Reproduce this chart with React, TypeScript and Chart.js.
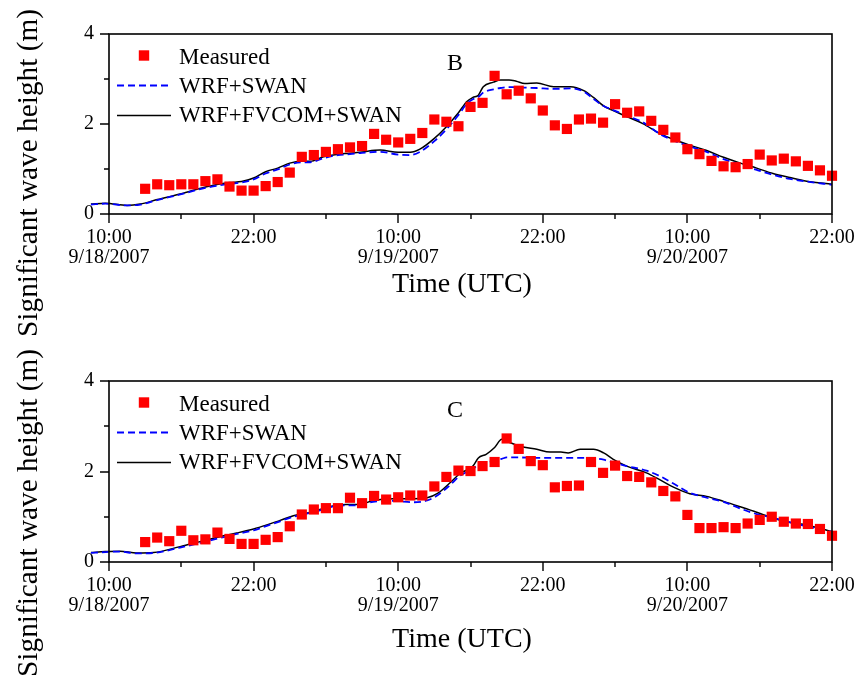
import React, { useEffect, useRef } from "react";
import { Chart, registerables } from "chart.js";

Chart.register(...registerables);

// ---------- data (hours since 10:00 UTC, 9/18/2007) ----------
const measuredHours = [
  3, 4, 5, 6, 7, 8, 9, 10, 11, 12, 13, 14, 15, 16, 17, 18, 19, 20, 21, 22,
  23, 24, 25, 26, 27, 28, 29, 30, 31, 32, 33, 34, 35, 36, 37, 38, 39, 40, 41,
  42, 43, 44, 45, 46, 47, 48, 49, 50, 51, 52, 53, 54, 55, 56, 57, 58, 59, 60,
];

const measuredB = [
  0.56, 0.66, 0.64, 0.66, 0.66, 0.73, 0.77, 0.61, 0.52, 0.52, 0.62, 0.71,
  0.92, 1.27, 1.31, 1.38, 1.44, 1.48, 1.51, 1.78, 1.65, 1.59, 1.67, 1.8, 2.1,
  2.05, 1.95, 2.38, 2.47, 3.07, 2.66, 2.74, 2.57, 2.3, 1.97, 1.89, 2.1, 2.12,
  2.03, 2.44, 2.25, 2.28, 2.07, 1.87, 1.7, 1.44, 1.33, 1.18, 1.06, 1.04, 1.11,
  1.32, 1.19, 1.23, 1.17, 1.07, 0.97, 0.85,
];

const measuredC = [
  0.44, 0.54, 0.46, 0.69, 0.48, 0.5, 0.65, 0.51, 0.4, 0.4, 0.49, 0.55, 0.79,
  1.05, 1.16, 1.19, 1.19, 1.42, 1.3, 1.46, 1.38, 1.43, 1.47, 1.47, 1.67, 1.88,
  2.02, 2.01, 2.12, 2.21, 2.73, 2.5, 2.23, 2.14, 1.65, 1.68, 1.69, 2.21, 1.97,
  2.13, 1.9, 1.88, 1.76, 1.57, 1.45, 1.04, 0.75, 0.75, 0.77, 0.75, 0.85, 0.93,
  1.0, 0.89, 0.85, 0.84, 0.73, 0.58,
];

const modelHoursB = [
  -1.5, -0.3, 1.5, 2.6, 4, 6, 8, 10, 11, 12, 13, 14, 15, 16, 16.7, 17.8, 19,
  20, 21, 22.5, 24, 25, 25.8, 27, 28, 29, 29.7, 30.2, 30.65, 31.06, 31.9, 32.5,
  33.2, 33.8, 34.5, 35.5, 36.9, 38.3, 39.4, 40.2, 41.05, 41.85, 43, 44.3, 45.7,
  46.8, 48.2, 49.6, 51, 52.4, 53.75, 55.1, 56.5, 57.9, 60,
];
const swanB = [
  0.21, 0.23, 0.19, 0.21, 0.31, 0.44, 0.58, 0.67, 0.7, 0.77, 0.9, 0.99, 1.1,
  1.15, 1.15, 1.24, 1.31, 1.33, 1.36, 1.38, 1.32, 1.31, 1.38, 1.62, 1.88, 2.2,
  2.45, 2.55, 2.6, 2.7, 2.77, 2.8, 2.82, 2.82, 2.81, 2.8, 2.78, 2.79, 2.72,
  2.56, 2.4, 2.31, 2.18, 2.04, 1.78, 1.64, 1.5, 1.38, 1.22, 1.1, 0.98, 0.87,
  0.78, 0.72, 0.65,
];
const fvcomB = [
  0.22, 0.24, 0.19, 0.22, 0.32, 0.45, 0.6, 0.7, 0.72, 0.8, 0.94, 1.02, 1.13,
  1.17, 1.17, 1.27, 1.33, 1.35, 1.38, 1.42, 1.37, 1.37, 1.44, 1.68, 1.94, 2.25,
  2.5, 2.59, 2.64, 2.83, 2.93, 2.98, 2.98, 2.95, 2.9, 2.91, 2.83, 2.83, 2.74,
  2.59, 2.4, 2.3, 2.16, 2.01, 1.79, 1.66, 1.53, 1.41, 1.26, 1.13, 1.02, 0.9,
  0.81, 0.73, 0.66,
];

const modelHoursC = [
  -1.5, -0.3, 0.9, 2.3, 3.7, 5.9, 7.55, 9.2, 10.6, 12, 13.1, 14.2, 15.3, 16.4,
  17.5, 18.6, 19.7, 20.8, 21.9, 23.6, 25.3, 26.4, 27.3, 28.3, 29.1, 30.2,
  30.65, 31.3, 32.0, 32.6, 33, 34.1, 35.5, 36.6, 37.5, 38.1, 39.1, 40.2, 41.05,
  41.85, 42.96, 44.6, 45.7, 46.8, 48.2, 49.6, 51, 52.4, 53.75, 55.1, 56.5,
  57.9, 60,
];
const swanC = [
  0.2, 0.22, 0.23, 0.19, 0.2, 0.32, 0.42, 0.53, 0.62, 0.7, 0.8, 0.9, 1.0, 1.07,
  1.14, 1.23, 1.25, 1.25, 1.33, 1.35, 1.32, 1.36, 1.48, 1.7, 1.9, 2.06, 2.15,
  2.2, 2.24, 2.28, 2.31, 2.31, 2.3, 2.3, 2.3, 2.3, 2.3, 2.29, 2.26, 2.2, 2.12,
  2.02, 1.9, 1.74, 1.53, 1.42, 1.33, 1.18, 1.06, 0.98, 0.88, 0.79, 0.67,
];
const fvcomC = [
  0.21, 0.23, 0.24, 0.2, 0.21, 0.34, 0.45, 0.56, 0.64, 0.73, 0.82, 0.92, 1.02,
  1.08, 1.16, 1.24, 1.27, 1.27, 1.36, 1.4, 1.4, 1.42, 1.52, 1.75, 1.95, 2.12,
  2.3, 2.38, 2.53, 2.71, 2.67, 2.56, 2.49, 2.43, 2.43, 2.41, 2.49, 2.49, 2.41,
  2.27, 2.12, 1.97, 1.82, 1.66, 1.51, 1.45, 1.34, 1.22, 1.1, 0.97, 0.87, 0.82,
  0.67,
];

const tickHours = [0, 12, 24, 36, 48, 60];
const tickTimes = ["10:00", "22:00", "10:00", "22:00", "10:00", "22:00"];
const tickDates = ["9/18/2007", "", "9/19/2007", "", "9/20/2007", ""];
const minorTickHours = [6, 18, 30, 42, 54];
const yTicks = [0, 2, 4];
const yMinorTicks = [1, 3];
const seriesNames = ["Measured", "WRF+SWAN", "WRF+FVCOM+SWAN"];
const yTitle = "Significant wave height (m)";
const xTitle = "Time (UTC)";

const FONT = "'Liberation Serif', 'Times New Roman', serif";
const W = 862;
const H = 340;

type PanelProps = {
  letter: string;
  measured: number[];
  hours: number[];
  swan: number[];
  fvcom: number[];
  areaTop: number;
  areaBottom: number;
  xTitleY: number;
};

function Panel({ letter, measured, hours, swan, fvcom, areaTop, areaBottom, xTitleY }: PanelProps) {
  const ref = useRef<HTMLCanvasElement | null>(null);

  useEffect(() => {
    if (!ref.current) return;
    const toXY = (xs: number[], ys: number[]) => xs.map((x, i) => ({ x, y: ys[i] }));

    const decor = {
      id: "decor",
      afterDraw(chart: any) {
        const { ctx, chartArea: a, scales } = chart;
        const xs = scales.x;
        const ys = scales.y;
        ctx.save();
        // frame
        ctx.strokeStyle = "#000";
        ctx.lineWidth = 1.6;
        ctx.setLineDash([]);
        ctx.strokeRect(a.left, a.top, a.right - a.left, a.bottom - a.top);
        // ticks
        ctx.lineWidth = 1.4;
        ctx.beginPath();
        tickHours.forEach((h) => {
          const px = Math.round(xs.getPixelForValue(h));
          ctx.moveTo(px, a.bottom);
          ctx.lineTo(px, a.bottom + 9);
        });
        minorTickHours.forEach((h) => {
          const px = Math.round(xs.getPixelForValue(h));
          ctx.moveTo(px, a.bottom);
          ctx.lineTo(px, a.bottom + 5);
        });
        yTicks.forEach((v) => {
          const py = Math.round(ys.getPixelForValue(v));
          ctx.moveTo(a.left - 9, py);
          ctx.lineTo(a.left, py);
        });
        yMinorTicks.forEach((v) => {
          const py = Math.round(ys.getPixelForValue(v));
          ctx.moveTo(a.left - 5, py);
          ctx.lineTo(a.left, py);
        });
        ctx.stroke();

        ctx.fillStyle = "#000";
        // x title
        ctx.font = `28px ${FONT}`;
        ctx.textAlign = "center";
        ctx.textBaseline = "alphabetic";
        ctx.fillText(xTitle, 462, xTitleY);
        // y title
        ctx.save();
        ctx.translate(37, 173);
        ctx.rotate(-Math.PI / 2);
        ctx.font = `29.3px ${FONT}`;
        ctx.fillText(yTitle, 0, 0);
        ctx.restore();
        // panel letter
        ctx.font = `24px ${FONT}`;
        ctx.fillText(letter, 455, a.top + 36);

        // legend
        ctx.textAlign = "left";
        ctx.font = `23px ${FONT}`;
        ctx.fillStyle = "#ff0000";
        ctx.fillRect(144 - 5.2, a.top + 21.5 - 5.2, 10.4, 10.4);
        ctx.fillStyle = "#000";
        ctx.fillText(seriesNames[0], 179, a.top + 29.5);

        ctx.strokeStyle = "#0000ff";
        ctx.lineWidth = 1.8;
        ctx.setLineDash([7, 4]);
        ctx.beginPath();
        ctx.moveTo(117, a.top + 51.5);
        ctx.lineTo(171, a.top + 51.5);
        ctx.stroke();
        ctx.fillText(seriesNames[1], 179, a.top + 59);

        ctx.strokeStyle = "#000";
        ctx.lineWidth = 1.5;
        ctx.setLineDash([]);
        ctx.beginPath();
        ctx.moveTo(117, a.top + 81.5);
        ctx.lineTo(171, a.top + 81.5);
        ctx.stroke();
        ctx.fillText(seriesNames[2], 179, a.top + 88);
        ctx.restore();
      },
    };

    const chart = new Chart(ref.current, {
      type: "line",
      data: {
        datasets: [
          {
            label: seriesNames[0],
            data: toXY(measuredHours, measured),
            showLine: false,
            pointStyle: "rect",
            pointRadius: 7.2,
            pointBackgroundColor: "#ff0000",
            pointBorderWidth: 0,
            backgroundColor: "#ff0000",
            borderColor: "#ff0000",
            clip: false,
          },
          {
            label: seriesNames[1],
            data: toXY(hours, swan),
            borderColor: "#0000ff",
            borderWidth: 1.8,
            borderDash: [7, 4],
            pointRadius: 0,
            cubicInterpolationMode: "monotone",
            fill: false,
            clip: false,
          },
          {
            label: seriesNames[2],
            data: toXY(hours, fvcom),
            borderColor: "#000000",
            borderWidth: 1.5,
            pointRadius: 0,
            cubicInterpolationMode: "monotone",
            fill: false,
            clip: false,
          },
        ],
      } as any,
      options: {
        responsive: false,
        animation: false,
        devicePixelRatio: 1,
        layout: { padding: { left: 0, right: W - 832, top: areaTop, bottom: 0 } },
        plugins: { legend: { display: false }, tooltip: { enabled: false } },
        scales: {
          x: {
            type: "linear",
            bounds: "data",
            afterDataLimits: (s: any) => {
              s.min = 0;
              s.max = 60;
            },
            afterBuildTicks: (s: any) => {
              s.ticks = tickHours.map((v) => ({ value: v }));
            },
            afterFit: (s: any) => {
              s.height = H - areaBottom;
              s.paddingLeft = 0;
              s.paddingRight = 0;
            },
            grid: { display: false, drawTicks: false },
            border: { display: false },
            ticks: {
              autoSkip: false,
              maxRotation: 0,
              minRotation: 0,
              padding: 14,
              color: "#000",
              font: { family: FONT, size: 20, lineHeight: 1.0 },
              callback: (_v: any, i: number) =>
                tickDates[i] ? [tickTimes[i], tickDates[i]] : tickTimes[i],
            },
          },
          y: {
            min: 0,
            max: 4,
            afterBuildTicks: (s: any) => {
              s.ticks = yTicks.map((v) => ({ value: v }));
            },
            afterFit: (s: any) => {
              s.width = 109;
              s.paddingTop = 0;
              s.paddingBottom = 0;
            },
            grid: { display: false, drawTicks: false },
            border: { display: false },
            ticks: {
              padding: 15,
              color: "#000",
              font: { family: FONT, size: 20 },
            },
          },
        },
      } as any,
      plugins: [decor],
    });
    return () => chart.destroy();
  }, []);

  return <canvas ref={ref} width={W} height={H} style={{ display: "block", width: W, height: H }} />;
}

export default function App() {
  return (
    <div style={{ position: "absolute", left: 0, top: 0, width: W, height: 680, background: "#fff" }}>
      <Panel
        letter="B"
        measured={measuredB}
        hours={modelHoursB}
        swan={swanB}
        fvcom={fvcomB}
        areaTop={34}
        areaBottom={214}
        xTitleY={292}
      />
      <Panel
        letter="C"
        measured={measuredC}
        hours={modelHoursC}
        swan={swanC}
        fvcom={fvcomC}
        areaTop={41}
        areaBottom={222}
        xTitleY={307}
      />
    </div>
  );
}
